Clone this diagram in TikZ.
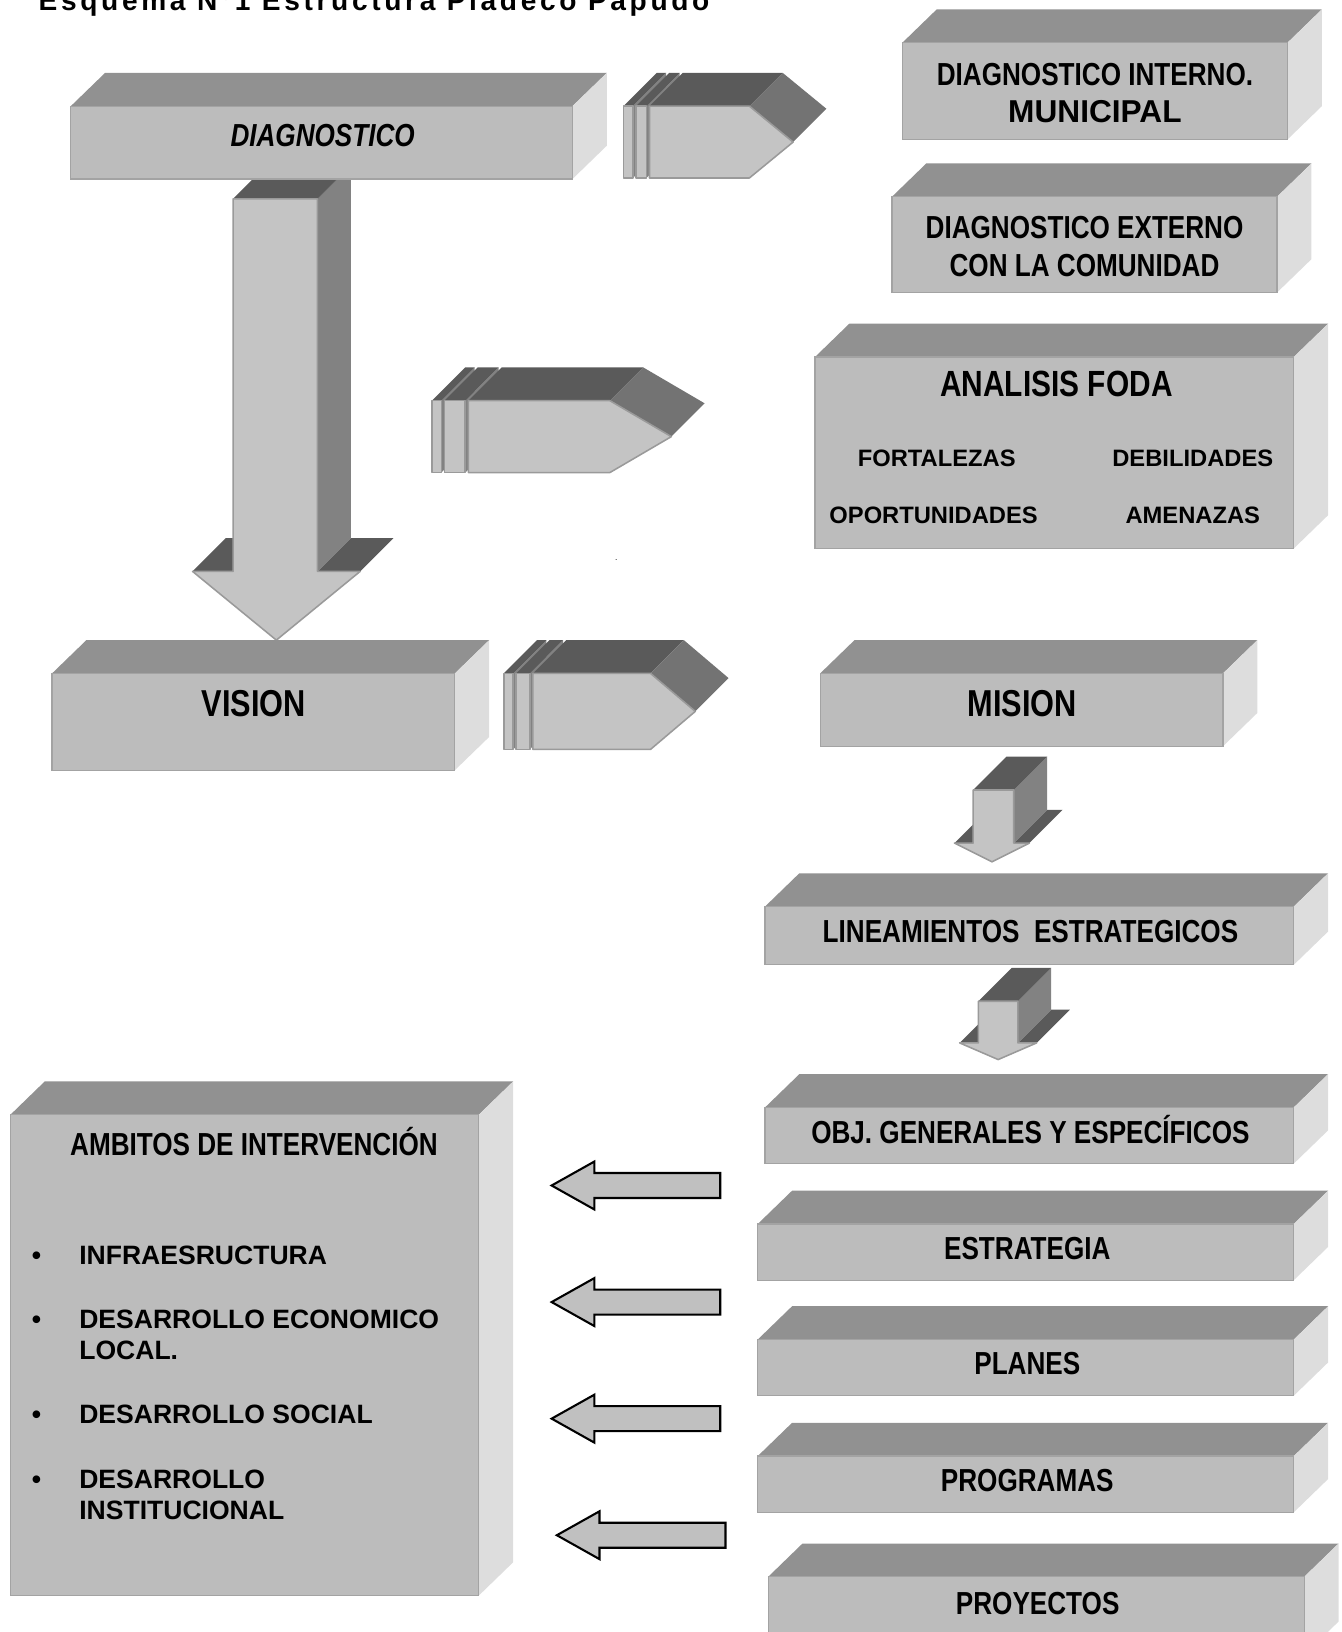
\documentclass[tikz,border=0pt]{standalone}
\usepackage{fontspec}
\usepackage{tikz}
\setmainfont{Liberation Sans}
\newfontfamily\narrowfont[FakeStretch=0.82]{Liberation Sans}
\newfontfamily\titlefont[LetterSpace=13]{Liberation Sans}

\definecolor{boxfront}{HTML}{BCBCBC}
\definecolor{boxtop}{HTML}{919191}
\definecolor{boxside}{HTML}{DDDDDD}
\definecolor{edgegray}{HTML}{A3A3A3}
\definecolor{arrowface}{HTML}{C4C4C4}
\definecolor{arrowedge}{HTML}{9A9A9A}
\definecolor{arrowtop}{HTML}{5A5A5A}
\definecolor{shaftside}{HTML}{828282}
\definecolor{tipside}{HTML}{737373}
\definecolor{outfill}{HTML}{C0C0C0}

\newcommand{\slab}[5]{%
    \fill[slabtop] (#2,#3) -- (#2+33,#3-32) -- (#4+33,#3-32) -- (#4,#3) -- cycle;
    \fill[slabside] (#4,#3) -- (#4+33,#3-32) -- (#4+33,#5-32) -- (#4,#5) -- cycle;
    \node[slabfront, minimum width={(#4-#2)*1pt}, minimum height={(#5-#3)*1pt}] (#1) at (#2,#3) {};
}
\newcommand{\stripearrow}[6]{%
    \foreach \a/\b in {#1/#1+9, #1+12/#2-3} {
        \fill[shaftface] (\b,#5) -- (\b+32,#5-32) -- (\b+32,#6-32) -- (\b,#6) -- cycle;
        \fill[arrowtopface] (\a,#5) -- (\a+32,#5-32) -- (\b+32,#5-32) -- (\b,#5) -- cycle;
        \filldraw[arrowfront] (\a,#5) rectangle (\b,#6);
    }
    \fill[arrowtopface] (#2,#5) -- (#2+32,#5-32) -- (#3+32,#5-32) -- (#3,#5) -- cycle;
    \fill[tipface] (#3,#5) -- (#3+32,#5-32) -- (#4+32,#5/2+#6/2-32) -- (#4,#5/2+#6/2) -- cycle;
    \filldraw[arrowfront] (#2,#5) -- (#3,#5) -- (#4,#5/2+#6/2) -- (#3,#6) -- (#2,#6) -- cycle;
}
\newcommand{\droparrow}[7]{%
    \fill[arrowtopface] (#5,#4) -- (#5+32,#4-32) -- (#1+32,#4-32) -- (#1,#4) -- cycle;
    \fill[arrowtopface] (#2,#4) -- (#2+32,#4-32) -- (#6+32,#4-32) -- (#6,#4) -- cycle;
    \fill[shaftface] (#2,#3) -- (#2+32,#3-32) -- (#2+32,#4-32) -- (#2,#4) -- cycle;
    \fill[arrowtopface] (#1,#3) -- (#1+32,#3-32) -- (#2+32,#3-32) -- (#2,#3) -- cycle;
    \filldraw[arrowfront] (#1,#3) -- (#2,#3) -- (#2,#4) -- (#6,#4) -- (#5/2+#6/2,#7) -- (#5,#4) -- (#1,#4) -- cycle;
}

\begin{document}
\begin{tikzpicture}
[
    x=1pt, y=-1pt,
    slabfront/.style={fill=boxfront, draw=edgegray, line width=1.2pt, inner sep=0pt, outer sep=0pt, anchor=north west},
    slabtop/.style={fill=boxtop},
    slabside/.style={fill=boxside},
    arrowfront/.style={fill=arrowface, draw=arrowedge, line width=1.5pt, line join=round},
    arrowtopface/.style={fill=arrowtop},
    shaftface/.style={fill=shaftside},
    tipface/.style={fill=tipside},
    backarrow/.style={fill=outfill, draw=black, line width=2pt},
    lbl/.style={anchor=base, inner sep=0pt, font=\narrowfont\bfseries\fontsize{30.6}{36}\selectfont},
    biglbl/.style={lbl, font=\narrowfont\bfseries\fontsize{36}{42}\selectfont},
    plainlbl/.style={anchor=base, inner sep=0pt, font=\bfseries\fontsize{22.8}{28}\selectfont},
    itemlbl/.style={anchor=base west, inner sep=0pt, font=\bfseries\fontsize{25.5}{31}\selectfont},
]
\useasboundingbox (0,0) rectangle (1289,1568);
\clip (0,0) rectangle (1289,1568);

\node[anchor=base west, inner sep=0pt, font=\titlefont\bfseries\fontsize{27}{30}\selectfont] (titulo) at (37,10) {Esquema Nº1 Estructura Pladeco Papudo};

\droparrow{224}{305}{191}{549}{185}{346}{615}
\slab{diagnostico}{68}{102}{550}{172}
\node[lbl, font=\narrowfont\bfseries\itshape\fontsize{30.6}{36}\selectfont] (diagtxt) at (310,141) {DIAGNOSTICO};
\stripearrow{599}{624}{720}{762}{102}{171}

\slab{interno}{867}{41}{1237}{134}
\node[lbl] (internotxt) at (1052,82) {DIAGNOSTICO INTERNO.};
\node[lbl, font=\bfseries\fontsize{30.4}{36}\selectfont] (municipaltxt) at (1052,118) {MUNICIPAL};

\slab{externo}{857}{189}{1227}{281}
\node[lbl] (externotxt) at (1042,229) {DIAGNOSTICO EXTERNO};
\node[lbl] (comunidadtxt) at (1042,266) {CON LA COMUNIDAD};

\stripearrow{415}{450}{586}{645}{385}{454}
\slab{foda}{783}{343}{1243}{527}
\node[lbl, font=\narrowfont\bfseries\fontsize{35}{40}\selectfont] (fodatxt) at (1015,381) {ANALISIS FODA};
\node[plainlbl] (fortalezas) at (900,448) {FORTALEZAS};
\node[plainlbl] (debilidades) at (1146,448) {DEBILIDADES};
\node[plainlbl] (oportunidades) at (897,503) {OPORTUNIDADES};
\node[plainlbl] (amenazas) at (1146,503) {AMENAZAS};
\node[inner sep=0pt, font=\fontsize{8}{8}\selectfont] (punto) at (592,538) {.};

\slab{vision}{50}{647}{437}{740}
\node[biglbl] (visiontxt) at (244,688) {VISION};
\stripearrow{484}{512}{625}{668}{647}{720}
\slab{mision}{788}{647}{1175}{717}
\node[biglbl] (misiontxt) at (982,688) {MISION};

\droparrow{935}{974}{759}{810}{917}{989}{828}
\slab{lineamientos}{735}{871}{1243}{927}
\node[lbl] (lineamientostxt) at (990,906) {LINEAMIENTOS~~ESTRATEGICOS};

\droparrow{940}{978}{962}{1002}{922}{996}{1018}
\slab{objetivos}{735}{1064}{1243}{1118}
\node[lbl] (objetivostxt) at (990,1099) {OBJ. GENERALES Y ESPECÍFICOS};
\slab{estrategia}{728}{1176}{1243}{1230}
\node[lbl] (estrategiatxt) at (987,1210) {ESTRATEGIA};
\slab{planes}{728}{1287}{1243}{1341}
\node[lbl] (planestxt) at (987,1321) {PLANES};
\slab{programas}{728}{1399}{1243}{1453}
\node[lbl] (programastxt) at (987,1433) {PROGRAMAS};
\slab{proyectos}{738}{1515}{1253}{1590}
\node[lbl] (proyectostxt) at (997,1551) {PROYECTOS};

\foreach \t/\c/\e in {530/1139/692, 530/1251/692, 530/1363/692, 535/1475/697}
    \draw[backarrow] (\t,\c) -- (\t+41,\c-23) -- (\t+41,\c-12) -- (\e,\c-12) -- (\e,\c+12) -- (\t+41,\c+12) -- (\t+41,\c+23) -- cycle;

\slab{ambitos}{10}{1071}{460}{1533}
\node[lbl] (ambitostxt) at (244,1110) {AMBITOS DE INTERVENCIÓN};
\foreach \y/\n in {1215/1, 1276/2, 1368/3, 1430/4}
    \node[itemlbl, anchor=base] (bala\n) at (35,\y) {•};
\node[itemlbl] (infra) at (76,1215) {INFRAESRUCTURA};
\node[itemlbl] (economico) at (76,1276) {DESARROLLO ECONOMICO};
\node[itemlbl] (local) at (76,1306) {LOCAL.};
\node[itemlbl] (social) at (76,1368) {DESARROLLO SOCIAL};
\node[itemlbl] (desarrollo) at (76,1430) {DESARROLLO};
\node[itemlbl] (institucional) at (76,1460) {INSTITUCIONAL};
\end{tikzpicture}
\end{document}
